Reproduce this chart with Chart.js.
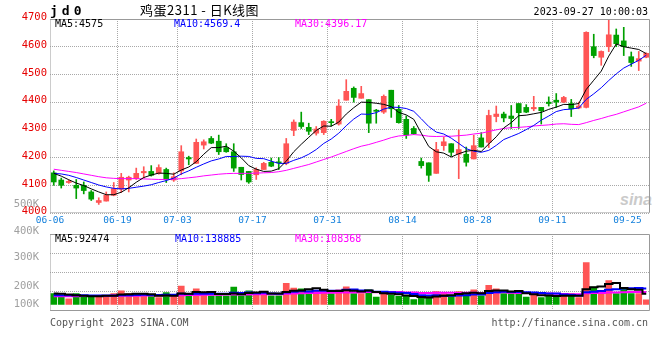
<!DOCTYPE html>
<html>
<head>
<meta charset="utf-8">
<title>鸡蛋2311 - 日K线图</title>
<script src="https://cdn.jsdelivr.net/npm/chart.js@4"></script>
<style>
  body { margin: 0; background: #fff; }
  #wrap { position: relative; width: 660px; height: 360px; font-family: "DejaVu Sans Mono", monospace; overflow: hidden; }
  #wrap canvas { position: absolute; left: 0; }
  .t { position: absolute; white-space: pre; font-size: 10px; line-height: 12px; }
</style>
</head>
<body>
<div id="wrap">
  <div class="t" style="left:620px;top:191px;font:italic bold 16px 'Liberation Sans';color:#cacaca;">sina</div>
  <canvas id="kc" width="660" height="232" style="top:0"></canvas>
  <canvas id="vc" width="660" height="130" style="top:190px"></canvas>

  <div class="t" style="left:50px;top:4px;font:bold 13px 'DejaVu Sans Mono';line-height:14px;letter-spacing:4px;">jd0</div>
  <div class="t" style="left:140px;top:3px;font:13px 'Noto Sans CJK SC';line-height:14px;letter-spacing:0.5px;">鸡蛋2311 - 日K线图</div>
  <div class="t" style="right:12px;top:6px;">2023-09-27 10:00:03</div>

  <div class="t" id="p5" style="left:55px;top:18px;color:#000;"></div>
  <div class="t" id="p10" style="left:174px;top:18px;color:#0000ff;"></div>
  <div class="t" id="p30" style="left:295px;top:18px;color:#ff00ff;"></div>

  <div class="t" id="v5" style="left:55px;top:233px;color:#000;"></div>
  <div class="t" id="v10" style="left:175px;top:233px;color:#0000ff;"></div>
  <div class="t" id="v30" style="left:295px;top:233px;color:#ff00ff;"></div>

  <div class="t" style="left:50px;top:317px;color:#555;">Copyright 2023 SINA.COM</div>
  <div class="t" style="right:12px;top:317px;color:#555;">http://finance.sina.com.cn</div>
</div>

<script>
  const dates = ['06-06','06-07','06-08','06-09','06-12','06-13','06-14','06-15','06-16','06-19',
    '06-20','06-21','06-26','06-27','06-28','06-29','06-30','07-03','07-04','07-05',
    '07-06','07-07','07-10','07-11','07-12','07-13','07-14','07-17','07-18','07-19',
    '07-20','07-21','07-24','07-25','07-26','07-27','07-28','07-31','08-01','08-02',
    '08-03','08-04','08-07','08-08','08-09','08-10','08-11','08-14','08-15','08-16',
    '08-17','08-18','08-21','08-22','08-23','08-24','08-25','08-28','08-29','08-30',
    '08-31','09-01','09-04','09-05','09-06','09-07','09-08','09-11','09-12','09-13',
    '09-14','09-15','09-18','09-19','09-20','09-21','09-22','09-25','09-26','09-27'];

  const openP = [4145,4119,4110,4100,4100,4076,4038,4043,4064,4086,
    4119,4124,4145,4150,4143,4157,4119,4152,4200,4179,
    4245,4269,4259,4236,4221,4165,4150,4138,4157,4183,
    4183,4179,4298,4326,4309,4288,4290,4328,4321,4407,
    4450,4414,4409,4371,4364,4443,4374,4338,4305,4186,
    4181,4143,4243,4250,4212,4212,4195,4271,4255,4348,
    4357,4350,4395,4381,4376,4381,4400,4407,4400,4395,
    4379,4381,4600,4562,4600,4642,4621,4564,4548,4562];
  const highP = [4152,4126,4119,4121,4112,4081,4055,4076,4110,4143,
    4133,4162,4167,4171,4174,4162,4145,4243,4205,4267,
    4264,4276,4281,4250,4250,4165,4150,4163,4183,4198,
    4200,4269,4336,4364,4324,4312,4333,4338,4409,4481,
    4455,4457,4409,4374,4426,4443,4388,4350,4312,4198,
    4181,4255,4274,4250,4300,4238,4281,4290,4371,4386,
    4364,4388,4395,4391,4421,4381,4419,4431,4421,4410,
    4400,4654,4645,4585,4700,4664,4670,4581,4583,4578];
  const lowP = [4100,4090,4107,4052,4069,4045,4031,4043,4062,4074,
    4076,4121,4126,4133,4140,4110,4114,4138,4174,4179,
    4231,4250,4211,4219,4150,4119,4107,4121,4157,4167,
    4157,4174,4279,4305,4283,4281,4283,4314,4317,4407,
    4400,4414,4290,4324,4359,4345,4324,4269,4283,4162,
    4114,4143,4226,4205,4124,4169,4195,4238,4236,4329,
    4329,4305,4305,4362,4369,4321,4386,4381,4398,4348,
    4376,4379,4560,4533,4582,4600,4568,4529,4514,4560];
  const closeP = [4112,4100,4114,4090,4081,4050,4045,4064,4088,4129,
    4129,4143,4150,4136,4164,4121,4131,4221,4195,4255,
    4257,4252,4221,4221,4162,4139,4112,4157,4179,4169,
    4181,4250,4328,4312,4295,4303,4331,4326,4386,4439,
    4417,4431,4324,4367,4421,4376,4326,4281,4286,4171,
    4136,4229,4257,4219,4229,4183,4243,4238,4352,4357,
    4343,4341,4362,4364,4381,4369,4395,4400,4417,4376,
    4386,4652,4568,4583,4643,4611,4600,4543,4557,4576];

  const ma5 = [4143,4133,4120,4108,4099,4087,4076,4066,4066,4075,
    4091,4111,4128,4137,4144,4143,4140,4155,4166,4185,
    4212,4236,4236,4241,4223,4199,4171,4158,4150,4151,
    4160,4187,4221,4248,4273,4298,4314,4313,4328,4357,
    4380,4400,4399,4396,4392,4384,4363,4354,4338,4288,
    4240,4221,4216,4202,4214,4223,4226,4222,4249,4275,
    4307,4326,4351,4353,4358,4363,4374,4382,4392,4391,
    4395,4446,4479,4512,4566,4610,4600,4595,4590,4575];
  const ma10 = [4143,4141,4136,4128,4119,4110,4101,4094,4089,4087,
    4089,4093,4097,4102,4110,4117,4126,4141,4152,4165,
    4177,4188,4195,4204,4204,4205,4204,4197,4196,4187,
    4179,4179,4190,4199,4212,4229,4251,4267,4288,4315,
    4339,4357,4356,4362,4375,4382,4381,4377,4367,4340,
    4312,4292,4285,4270,4251,4232,4223,4219,4226,4244,
    4265,4276,4287,4301,4316,4335,4350,4366,4373,4375,
    4379,4410,4430,4452,4478,4502,4523,4537,4551,4569.4];
  const ma30 = [4158,4154,4150,4146,4141,4136,4131,4127,4125,4124,
    4124,4124,4123,4122,4121,4121,4122,4124,4127,4130,
    4134,4137,4140,4142,4143,4143,4143,4144,4145,4146,
    4149,4154,4161,4168,4175,4184,4193,4202,4212,4222,
    4232,4241,4247,4255,4263,4272,4278,4280,4283,4281,
    4277,4276,4277,4277,4279,4281,4285,4288,4294,4300,
    4305,4308,4309,4311,4314,4316,4318,4321,4322,4320,
    4319,4326,4334,4341,4349,4356,4365,4374,4383,4396.17];

  const volume = [95000,74000,48000,95000,64000,74000,69000,69000,95000,119000,
    95000,80000,69000,80000,58000,103000,69000,159000,74000,135000,
    95000,74000,74000,74000,151000,74000,119000,95000,114000,74000,
    74000,183000,143000,135000,119000,119000,119000,95000,127000,154000,
    95000,95000,127000,64000,101000,80000,69000,69000,42000,53000,
    69000,111000,95000,69000,111000,101000,127000,74000,167000,135000,
    95000,95000,95000,64000,90000,58000,80000,74000,74000,95000,
    58000,366000,151000,114000,207000,95000,143000,95000,95000,40000];
  const vma5 = [95000,92000,85000,80000,75000,71000,70000,74000,74000,85000,
    89000,92000,92000,89000,76000,78000,76000,94000,93000,108000,
    106000,107000,90000,90000,94000,89000,98000,103000,111000,95000,
    95000,108000,118000,122000,131000,140000,127000,117000,116000,123000,
    118000,113000,120000,107000,96000,93000,88000,77000,72000,63000,
    60000,69000,74000,79000,91000,97000,101000,96000,116000,121000,
    120000,113000,117000,97000,88000,80000,77000,73000,75000,76000,
    76000,133000,149000,157000,179000,187000,142000,131000,127000,92474];
  const vma10 = [80000,80000,79000,80000,80000,78000,77000,77000,78000,80000,
    80000,81000,83000,81000,81000,84000,84000,93000,91000,92000,
    92000,92000,92000,92000,101000,98000,103000,97000,101000,94000,
    92000,103000,110000,116000,113000,118000,118000,118000,119000,127000,
    129000,120000,119000,111000,110000,106000,101000,98000,90000,80000,
    77000,79000,75000,76000,77000,79000,85000,85000,98000,106000,
    109000,107000,107000,106000,104000,100000,95000,95000,86000,82000,
    78000,105000,111000,116000,128000,131000,138000,140000,142000,138885];
  const vma30 = [70000,70000,71000,71000,72000,72000,73000,73000,74000,75000,
    75000,76000,77000,77000,78000,79000,80000,80000,81000,82000,
    83000,84000,84000,85000,86000,86000,87000,88000,88000,89000,
    88000,92000,95000,96000,98000,100000,101000,102000,103000,104000,
    104000,105000,107000,106000,108000,107000,107000,104000,103000,100000,
    99000,101000,101000,101000,100000,101000,101000,100000,102000,104000,
    105000,102000,100000,98000,97000,95000,94000,93000,91000,89000,
    88000,97000,98000,99000,103000,103000,106000,107000,108000,108368];

  const dateTicks = ['06-06','06-19','07-03','07-17','07-31','08-14','08-28','09-11','09-25'];
  const gridDates = ['06-19','07-03','07-17','07-31','08-14','08-28','09-11'];
  const priceTicks = [4000,4100,4200,4300,4400,4500,4600,4700];
  const volTickLabels = ['500K','400K','300K','200K','100K'];
  const volTickValues = [880000,642000,410000,162000,0];
  const volGridValues = [-56000,112000,280000,448000,616000];

  const UP = '#ff5555', DOWN = '#00a000', GRID = '#a8a8a8';
  const candleColors = closeP.map((c, i) => c >= openP[i] ? UP : DOWN);

  document.getElementById('p5').textContent = 'MA5:' + ma5[ma5.length - 1];
  document.getElementById('p10').textContent = 'MA10:' + ma10[ma10.length - 1];
  document.getElementById('p30').textContent = 'MA30:' + ma30[ma30.length - 1];
  document.getElementById('v5').textContent = 'MA5:' + vma5[vma5.length - 1];
  document.getElementById('v10').textContent = 'MA10:' + vma10[vma10.length - 1];
  document.getElementById('v30').textContent = 'MA30:' + vma30[vma30.length - 1];

  Chart.defaults.font.family = 'DejaVu Sans Mono';
  Chart.defaults.animation = false;

  // box round the plot area, some sides dotted
  const frame = {
    id: 'frame',
    afterDraw(chart, args, opts) {
      const ctx = chart.ctx, a = chart.chartArea;
      const l = Math.round(a.left) + 0.5, r = Math.round(a.right) - 0.5;
      const t = Math.round(a.top) + 0.5, b = Math.round(a.bottom) - 0.5;
      const side = (x1, y1, x2, y2, dotted) => {
        ctx.save();
        ctx.strokeStyle = '#999';
        ctx.lineWidth = 1;
        ctx.setLineDash(dotted ? [1, 1] : []);
        ctx.beginPath(); ctx.moveTo(x1, y1); ctx.lineTo(x2, y2); ctx.stroke();
        ctx.restore();
      };
      side(l, t, r, t, opts.dotted.includes('top'));
      side(r, t, r, b, opts.dotted.includes('right'));
      side(l, b, r, b, opts.dotted.includes('bottom'));
      side(l, t, l, b, opts.dotted.includes('left'));
    }
  };

  // dotted date lines only at the marked days
  const xGridColor = c => (c.index !== undefined && gridDates.includes(dates[c.index])) ? GRID : 'transparent';
  const line = (label, data, color, width, stepped) => ({
    type: 'line', label, data, borderColor: color, borderWidth: width,
    pointRadius: 0, tension: 0, order: 0, fill: false, stepped: stepped || false
  });

  new Chart(document.getElementById('kc'), {
    type: 'bar',
    data: {
      labels: dates,
      datasets: [
        line('MA5', ma5, '#000000', 1),
        line('MA10', ma10, '#0000ff', 1),
        line('MA30', ma30, '#ff00ff', 1),
        { label: 'body', data: dates.map((d, i) => [openP[i], closeP[i]]), backgroundColor: candleColors,
          barThickness: 5, minBarLength: 1, grouped: false, order: 1, borderWidth: 0 },
        { label: 'wick', data: dates.map((d, i) => [lowP[i], highP[i]]), backgroundColor: candleColors,
          barThickness: 1, grouped: false, order: 2, borderWidth: 0 }
      ]
    },
    options: {
      responsive: false,
      devicePixelRatio: 1,
      layout: { padding: { top: 19, right: 10, left: 0, bottom: 0 } },
      plugins: { legend: { display: false }, tooltip: { enabled: false }, frame: { dotted: ['left', 'bottom'] } },
      scales: {
        x: {
          type: 'category', offset: true,
          grid: { offset: true, drawTicks: false, color: xGridColor, lineWidth: 1 },
          border: { display: false, dash: [1, 1] },
          ticks: { autoSkip: false, maxRotation: 0, minRotation: 0, labelOffset: -3.75, padding: 2,
            color: '#1480dc', font: { size: 9.5 },
            callback: (v, i) => dateTicks.includes(dates[i]) ? dates[i] : '' },
          afterFit: s => { s.height = 19; }
        },
        y: {
          min: 4000, max: 4700,
          afterBuildTicks: s => { s.ticks = priceTicks.map(v => ({ value: v })); },
          grid: { color: GRID, drawTicks: false },
          border: { display: false, dash: [1, 1] },
          ticks: { color: '#e60000', padding: 3, labelOffset: -1.5, font: { size: 10.5 }, callback: v => String(v) },
          afterFit: s => { s.width = 50; }
        }
      }
    },
    plugins: [frame]
  });

  new Chart(document.getElementById('vc'), {
    type: 'bar',
    data: {
      labels: dates,
      datasets: [
        line('MA5', vma5, '#000000', 2, 'middle'),
        line('MA10', vma10, '#0000ff', 2, 'middle'),
        line('MA30', vma30, '#ff00ff', 2, 'middle'),
        { label: 'vol', data: volume, backgroundColor: candleColors, barThickness: 6,
          grouped: false, order: 1, borderWidth: 0, yAxisID: 'y' }
      ]
    },
    options: {
      responsive: false,
      devicePixelRatio: 1,
      layout: { padding: { top: 44, right: 10, left: 0, bottom: 0 } },
      plugins: { legend: { display: false }, tooltip: { enabled: false }, frame: { dotted: ['left'] } },
      scales: {
        x: {
          type: 'category', offset: true,
          grid: { offset: true, drawTicks: false, color: xGridColor, lineWidth: 1 },
          border: { display: false, dash: [1, 1] },
          ticks: { autoSkip: false, maxRotation: 0, callback: () => '' },
          afterFit: s => { s.height = 2; }
        },
        y: {
          position: 'left', min: -56000, max: 616000,
          afterBuildTicks: s => { s.ticks = volTickValues.map(v => ({ value: v })); },
          grid: { display: false },
          border: { display: false },
          ticks: { color: '#a0a0a0', padding: 3, font: { size: 10.5 },
            callback: (v, i) => volTickLabels[i] },
          afterFit: s => { s.width = 50; }
        },
        yg: {
          position: 'left', min: -56000, max: 616000,
          afterBuildTicks: s => { s.ticks = volGridValues.map(v => ({ value: v })); },
          grid: { color: GRID, drawTicks: false },
          border: { display: false, dash: [1, 1] },
          ticks: { display: false },
          afterFit: s => { s.width = 0; }
        }
      }
    },
    plugins: [frame]
  });
</script>
</body>
</html>
